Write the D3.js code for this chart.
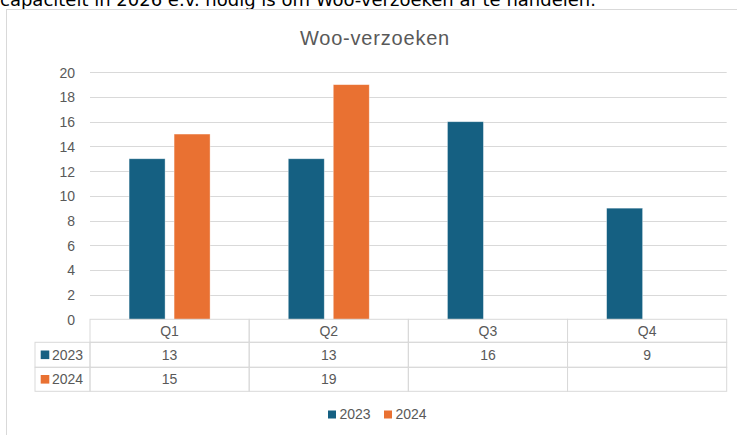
<!DOCTYPE html>
<meta charset="utf-8">
<head>
	<style>
		html, body { margin: 0; padding: 0; background: white; }
		svg { display: block; }
		.lbl { font-family: "Liberation Sans", Arial, sans-serif; fill: #595959; font-size: 14px; }
		.grid line { stroke: #d9d9d9; stroke-width: 1; }
		.cell { fill: none; stroke: #d9d9d9; stroke-width: 1; }
	</style>
	<script src="https://d3js.org/d3.v7.min.js"></script>
</head>
<body>
	<script>

	// DATA
	var quarters = ['Q1', 'Q2', 'Q3', 'Q4'],
		series = ['2023', '2024'],
		values2023 = [13, 13, 16, 9],
		values2024 = [15, 19, null, null],
		yTicks = [0, 2, 4, 6, 8, 10, 12, 14, 16, 18, 20],
		colors = { '2023': '#156082', '2024': '#E97132' };

	var rows = series.map(function(s, i) {
		return { name: s, values: i === 0 ? values2023 : values2024 };
	});

	// SETUP
	var W = 737, H = 435,
		plot = { left: 90, right: 726.7, top: 72.3, bottom: 319.3 },
		rowH = [23, 25, 24];

	var svg = d3.select('body').append('svg')
		.attr('width', W)
		.attr('height', H);

	// text above the chart (rest of the document, cut off at the top)
	svg.append('text')
		.attr('x', 0)
		.attr('y', 5.5)
		.style('font-family', '"DejaVu Sans", sans-serif')
		.style('font-size', '18px')
		.attr('fill', '#000')
		.text('capaciteit in 2026 e.v. nodig is om Woo-verzoeken af te handelen.');

	// chart frame
	svg.append('rect')
		.attr('x', 6.5)
		.attr('y', 9.5)
		.attr('width', W)
		.attr('height', H)
		.attr('fill', 'white')
		.attr('stroke', '#d9d9d9');

	svg.append('text')
		.attr('class', 'lbl')
		.attr('x', 375)
		.attr('y', 45)
		.attr('text-anchor', 'middle')
		.style('font-size', '20px')
		.style('letter-spacing', '0.8px')
		.text('Woo-verzoeken');

	var x0 = d3.scaleBand().domain(quarters).range([plot.left, plot.right]),
		y = d3.scaleLinear().domain([0, 20]).range([plot.bottom, plot.top]);

	var groupW = 81;
	var x1 = d3.scaleBand().domain(series).range([-groupW / 2, groupW / 2]).paddingInner(0.2);

	// gridlines
	svg.append('g')
		.attr('class', 'grid')
		.selectAll('line')
		.data(yTicks.slice(1))
		.enter().append('line')
		.attr('x1', plot.left)
		.attr('x2', plot.right)
		.attr('y1', function(d) { return Math.round(y(d)) + 0.5; })
		.attr('y2', function(d) { return Math.round(y(d)) + 0.5; });

	// y axis labels
	var yAxis = svg.append('g')
		.attr('transform', 'translate(75,0)')
		.call(d3.axisLeft(y).tickValues(yTicks).tickSize(0).tickPadding(0));
	yAxis.select('.domain').remove();
	yAxis.attr('font-family', null).attr('font-size', null);
	yAxis.selectAll('text')
		.attr('class', 'lbl')
		.attr('fill', null)
		.attr('dy', '0.35em');

	// bars
	var groups = svg.append('g').selectAll('g')
		.data(quarters)
		.enter().append('g')
		.attr('transform', function(d) { return 'translate(' + (x0(d) + x0.bandwidth() / 2) + ',0)'; });

	groups.selectAll('rect')
		.data(function(q, qi) {
			return rows.map(function(r) { return { s: r.name, v: r.values[qi] }; })
				.filter(function(d) { return d.v != null; });
		})
		.enter().append('rect')
		.attr('x', function(d) { return x1(d.s); })
		.attr('width', x1.bandwidth())
		.attr('y', function(d) { return y(d.v); })
		.attr('height', function(d) { return y(0) - y(d.v); })
		.attr('fill', function(d) { return colors[d.s]; })
		.attr('stroke', 'rgba(255,255,255,0.5)')
		.attr('stroke-width', 0.75);

	// data table
	var t = svg.append('g'),
		tableLeft = 35,
		yHead = plot.bottom,
		yRow = [yHead + rowH[0], yHead + rowH[0] + rowH[1]];

	// header row
	t.selectAll('.hcell')
		.data(quarters)
		.enter().append('rect')
		.attr('class', 'cell')
		.attr('x', function(d) { return x0(d); })
		.attr('y', yHead)
		.attr('width', x0.bandwidth())
		.attr('height', rowH[0]);

	t.selectAll('.htext')
		.data(quarters)
		.enter().append('text')
		.attr('class', 'lbl')
		.attr('x', function(d) { return x0(d) + x0.bandwidth() / 2; })
		.attr('y', yHead + rowH[0] / 2)
		.attr('dy', '0.35em')
		.attr('text-anchor', 'middle')
		.text(function(d) { return d; });

	rows.forEach(function(r, ri) {
		var top = yRow[ri], h = rowH[ri + 1];
		t.append('rect')
			.attr('class', 'cell')
			.attr('x', tableLeft)
			.attr('y', top)
			.attr('width', plot.left - tableLeft)
			.attr('height', h);
		t.append('rect')
			.attr('x', 40.7)
			.attr('y', top + h / 2 - 4.3)
			.attr('width', 8.6)
			.attr('height', 8.6)
			.attr('fill', colors[r.name]);
		t.append('text')
			.attr('class', 'lbl')
			.attr('x', 52)
			.attr('y', top + h / 2)
			.attr('dy', '0.35em')
			.text(r.name);

		quarters.forEach(function(q, qi) {
			t.append('rect')
				.attr('class', 'cell')
				.attr('x', x0(q))
				.attr('y', top)
				.attr('width', x0.bandwidth())
				.attr('height', h);
			if (r.values[qi] != null) {
				t.append('text')
					.attr('class', 'lbl')
					.attr('x', x0(q) + x0.bandwidth() / 2)
					.attr('y', top + h / 2)
					.attr('dy', '0.35em')
					.attr('text-anchor', 'middle')
					.text(r.values[qi]);
			}
		});
	});

	// legend
	var legend = svg.append('g').selectAll('g')
		.data(series)
		.enter().append('g')
		.attr('transform', function(d, i) { return 'translate(' + (328 + i * 56) + ',410.5)'; });

	legend.append('rect')
		.attr('width', 8)
		.attr('height', 8)
		.attr('fill', function(d) { return colors[d]; });

	legend.append('text')
		.attr('class', 'lbl')
		.attr('x', 11.5)
		.attr('y', 4)
		.attr('dy', '0.35em')
		.text(function(d) { return d; });

	</script>
</body>
